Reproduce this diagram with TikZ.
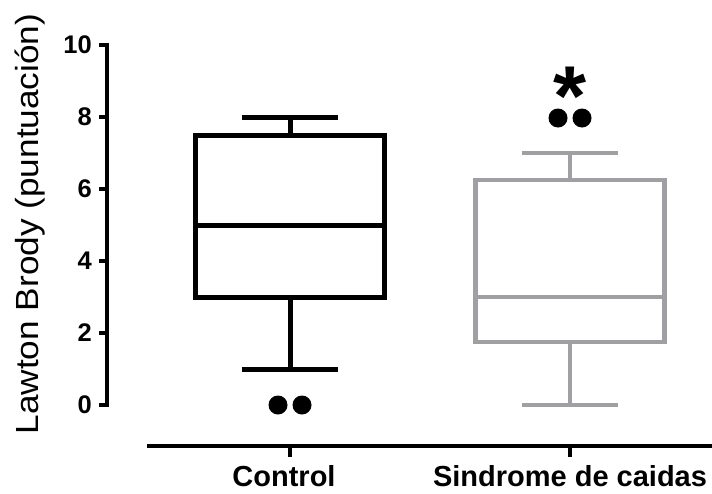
\documentclass[tikz,border=0pt]{standalone}
\usepackage{fontspec}
\setmainfont{Liberation Sans}
\definecolor{boxgray}{HTML}{A0A0A4}
\begin{document}
\begin{tikzpicture}[x=1pt,y=-1pt,
  axisline/.style={line width=3.2pt,black},
  ctrlbox/.style={line width=5pt,black},
  grbox/.style={line width=4.6pt,boxgray},
  ticklbl/.style={anchor=east,inner sep=0pt,font=\fontsize{25.5}{26}\selectfont\bfseries},
  grplbl/.style={anchor=base,inner sep=0pt,font=\fontsize{29}{30}\selectfont\bfseries},
  outdot/.style={circle,fill=black,inner sep=0pt,minimum size=19pt}]
\useasboundingbox (0,0) rectangle (712,493);
% y axis
\draw[axisline,line cap=rect] (107,45) -- (107,405);
\foreach \v/\yy in {0/405,2/333,4/261,6/189,8/117,10/45}{
  \draw[axisline] (99,\yy) -- (107,\yy);
  \node[ticklbl] (t\v) at (92,\yy) {\v};
}
\node[rotate=90,anchor=base,inner sep=0pt,font=\fontsize{32}{34}\selectfont] (ytitle) at (38.5,224)
  {\scalebox{1.1}[1]{Lawton Brody (puntuación)}};
% x axis
\draw[axisline] (147,446) -- (712,446);
\draw[axisline] (290,446) -- (290,457);
\draw[axisline] (570,446) -- (570,457);
\node[grplbl] (lc) at (284,486) {Control};
\node[grplbl] (ls) at (570,486) {Sindrome de caidas};
% Control box
\draw[ctrlbox] (242,117) -- (338,117);
\draw[ctrlbox] (290,117) -- (290,135);
\draw[ctrlbox] (195.5,135) rectangle (384.5,297);
\draw[ctrlbox] (195.5,225) -- (384.5,225);
\draw[ctrlbox] (290,297) -- (290,369);
\draw[ctrlbox] (242,369) -- (338,369);
\node[outdot] (c1) at (278,405) {};
\node[outdot] (c2) at (302,405) {};
% Sindrome box
\draw[grbox] (522,153) -- (618,153);
\draw[grbox] (570,153) -- (570,180);
\draw[grbox] (475.5,180) rectangle (664.5,342);
\draw[grbox] (475.5,297) -- (664.5,297);
\draw[grbox] (570,342) -- (570,405);
\draw[grbox] (522,405) -- (618,405);
\node[outdot] (s1) at (558,118) {};
\node[outdot] (s2) at (582,118) {};
\node[anchor=north,inner sep=0pt,font=\fontsize{85}{85}\selectfont\bfseries] (ast) at (570,67) {*};
\end{tikzpicture}
\end{document}
